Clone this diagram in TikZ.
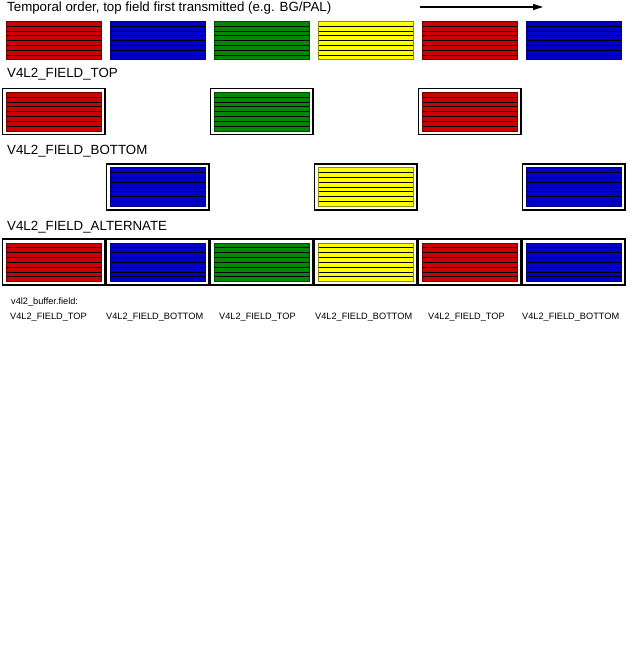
\documentclass[tikz,border=0pt]{standalone}
\usepackage{fontspec}
\setmainfont{Liberation Sans}
\usetikzlibrary{arrows.meta, calc}
\definecolor{fred}{RGB}{204,0,0}
\definecolor{fblue}{RGB}{0,0,204}
\definecolor{fgreen}{RGB}{0,136,0}
\definecolor{fyellow}{RGB}{255,255,0}

\begin{document}
\begin{tikzpicture}[x=1pt, y=-1pt, font=\fontsize{13.3}{15}\selectfont,
    fld/.style={draw=#1!55!black, fill=#1, line width=0.5pt, inner sep=0pt,
      minimum width=95pt, minimum height=38.5pt,
      path picture={\foreach \k in {1,...,7}
        \draw[line width=0.6pt, black]
          ($(path picture bounding box.south west)!\k/8!(path picture bounding box.north west)$) --
          ($(path picture bounding box.south east)!\k/8!(path picture bounding box.north east)$);}},
    frm/.style={draw, line width=1.5pt, inner sep=0pt, minimum width=102.5pt, minimum height=46pt},
    lbl/.style={anchor=base west, inner sep=0pt},
    small/.style={anchor=base west, inner sep=0pt, font=\fontsize{9.2}{11}\selectfont}]
  \fill[white] (0,0) rectangle (629,666);
  \useasboundingbox (0,0) rectangle (629,666);

  % temporal order
  \node[lbl] (title) at (7,12) {Temporal order, top field first transmitted (e.g. BG/PAL)};
  \coordinate (tstart) at (420,7);
  \coordinate (tend) at (543,7);
  \draw[-{Triangle[length=10pt, width=6pt]}, line width=1.1pt] (tstart) -- (tend);
  \foreach \c [count=\i from 0] in {fred,fblue,fgreen,fyellow,fred,fblue}
    \node[fld=\c] (seq\i) at (53.5+104*\i, 40.5) {};

  % top fields only
  \node[lbl] (toplbl) at (7,78) {V4L2\_FIELD\_TOP};
  \foreach \i/\c in {0/fred,2/fgreen,4/fred} {
    \node[frm] (topf\i) at (53.5+104*\i, 111.5) {};
    \node[fld=\c] (top\i) at (topf\i) {};
  }

  % bottom fields only
  \node[lbl] (botlbl) at (7,154) {V4L2\_FIELD\_BOTTOM};
  \foreach \i/\c in {1/fblue,3/fyellow,5/fblue} {
    \node[frm] (botf\i) at (53.5+104*\i, 186.8) {};
    \node[fld=\c] (bot\i) at (botf\i) {};
  }

  % alternate
  \node[lbl] (altlbl) at (7,230) {V4L2\_FIELD\_ALTERNATE};
  \foreach \c [count=\i from 0] in {fred,fblue,fgreen,fyellow,fred,fblue} {
    \node[frm] (altf\i) at (53.5+104*\i, 262.2) {};
    \node[fld=\c] (alt\i) at (altf\i) {};
  }

  \node[small] (buflbl) at (11,304) {v4l2\_buffer.field:};
  \foreach \x/\n [count=\i] in {10/TOP,106/BOTTOM,219/TOP,315/BOTTOM,428/TOP,522/BOTTOM}
    \node[small] (bufval\i) at (\x,319) {V4L2\_FIELD\_\n};
\end{tikzpicture}
\end{document}
